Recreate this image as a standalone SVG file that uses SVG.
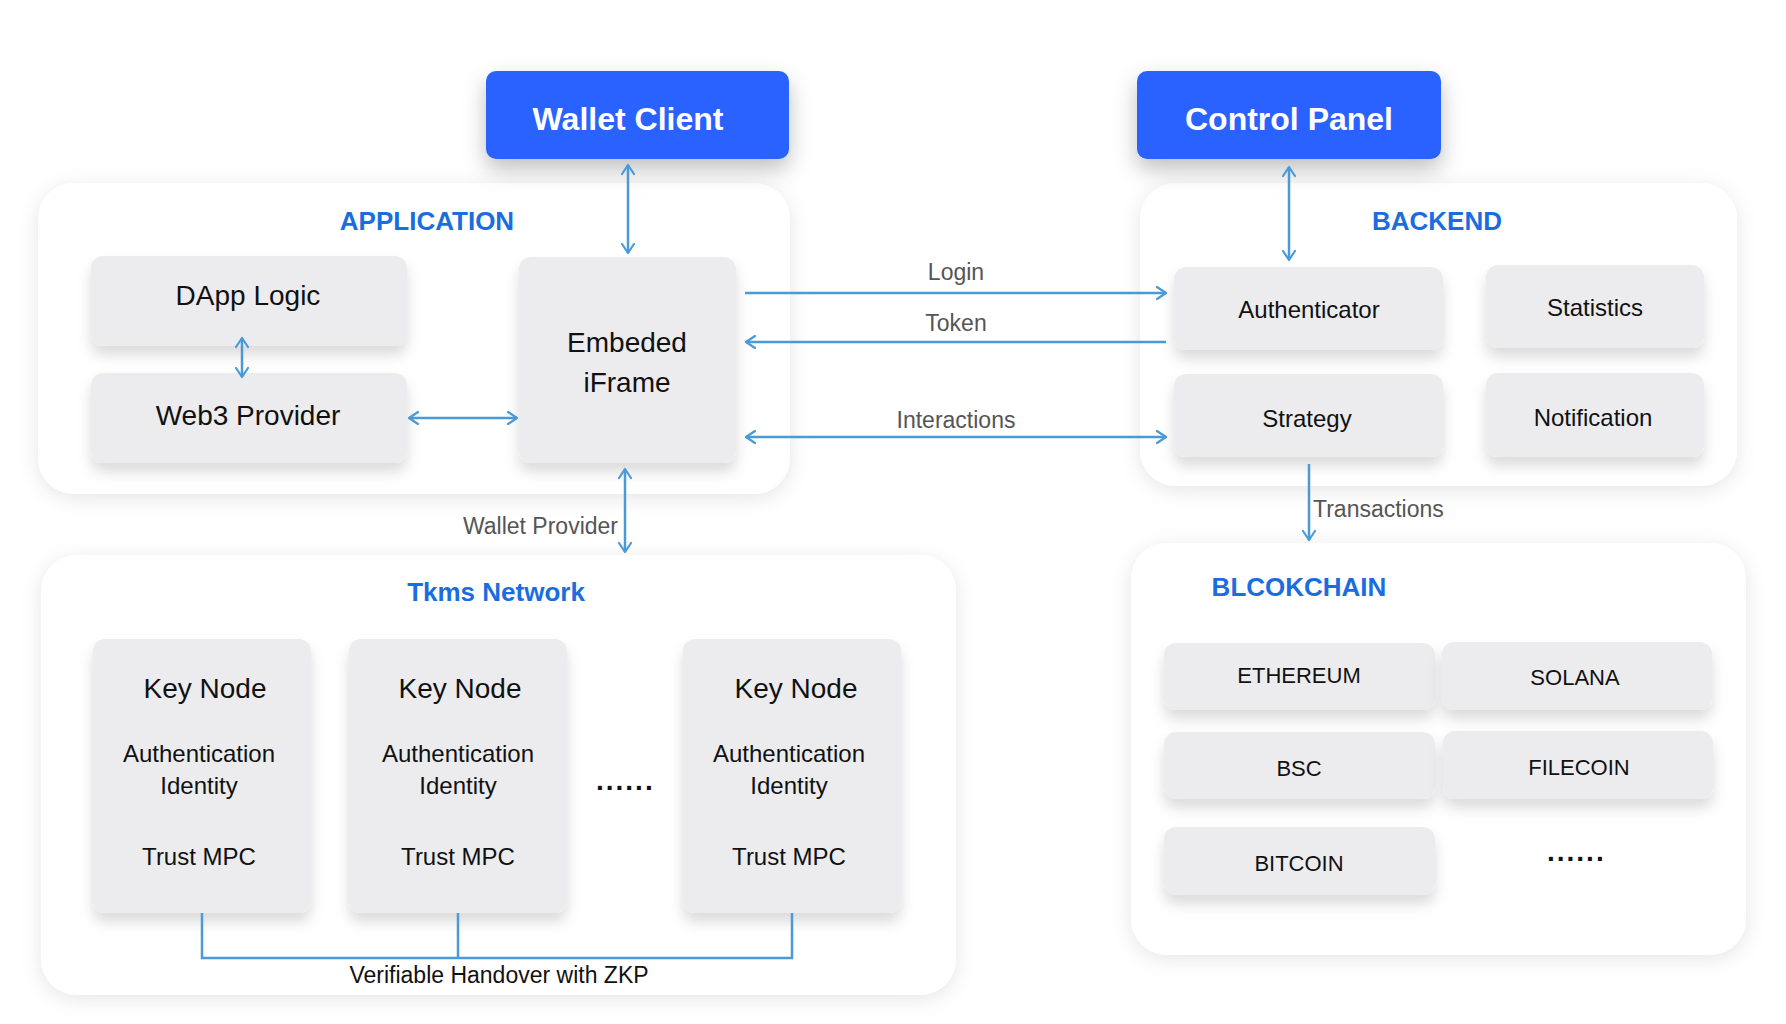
<svg xmlns="http://www.w3.org/2000/svg" width="1786" height="1024" viewBox="0 0 1786 1024">
<defs>
<filter id="shC" x="-10%" y="-10%" width="120%" height="130%"><feDropShadow dx="0" dy="4" stdDeviation="10" flood-color="#000" flood-opacity="0.1"/></filter>
<filter id="shB" x="-15%" y="-20%" width="130%" height="160%"><feDropShadow dx="0" dy="9" stdDeviation="7" flood-color="#000" flood-opacity="0.14"/></filter>
<filter id="shH" x="-20%" y="-30%" width="140%" height="190%"><feDropShadow dx="0" dy="10" stdDeviation="11" flood-color="#000" flood-opacity="0.25"/></filter>
<marker id="ah" viewBox="0 0 14 14" refX="12" refY="7" markerWidth="14" markerHeight="14" markerUnits="userSpaceOnUse" orient="auto-start-reverse"><path d="M3 1 L12 7 L3 13" fill="none" stroke="#4a9ad8" stroke-width="2.2" stroke-linecap="round" stroke-linejoin="round"/></marker>
</defs>
<style>
.cont{fill:#fff;filter:url(#shC)}
.box{fill:#ececef;filter:url(#shB)}
.hdr{fill:#2962ff;filter:url(#shH)}
.ht{font-family:"Liberation Sans",Arial,sans-serif;font-weight:bold;font-size:32px;fill:#fff;text-anchor:middle}
.ttl{font-family:"Liberation Sans",Arial,sans-serif;font-weight:bold;font-size:26px;fill:#1b6ddf;text-anchor:middle}
.bt{font-family:"Liberation Sans",Arial,sans-serif;font-size:28px;fill:#111;text-anchor:middle}
.st{font-family:"Liberation Sans",Arial,sans-serif;font-size:24px;fill:#111;text-anchor:middle}
.ct{font-family:"Liberation Sans",Arial,sans-serif;font-size:22px;fill:#111;text-anchor:middle}
.lbl{font-family:"Liberation Sans",Arial,sans-serif;font-size:23px;fill:#555;text-anchor:middle}
.dots{font-family:"Liberation Sans",Arial,sans-serif;font-size:28px;font-weight:bold;fill:#111;letter-spacing:2px}
.ln{fill:none;stroke:#4a9ad8;stroke-width:2.5}
</style>
<rect width="1786" height="1024" fill="#fff"/>

<g id="application">
<rect class="cont" x="38" y="183" width="752" height="311" rx="36"/>
<text class="ttl" x="427" y="230">APPLICATION</text>
</g>
<g id="backend">
<rect class="cont" x="1140" y="183" width="597" height="303" rx="36"/>
<text class="ttl" x="1437" y="230">BACKEND</text>
</g>
<g id="tkms-network">
<rect class="cont" x="41" y="555" width="915" height="440" rx="36"/>
<text class="ttl" x="496" y="601">Tkms Network</text>
</g>
<g id="blockchain">
<rect class="cont" x="1131" y="543" width="615" height="412" rx="36"/>
<text class="ttl" x="1299" y="596">BLCOKCHAIN</text>
</g>

<g id="wallet-client">
<rect class="hdr" x="486" y="71" width="303" height="88" rx="10"/>
<text class="ht" x="628" y="130">Wallet Client</text>
</g>
<g id="control-panel">
<rect class="hdr" x="1137" y="71" width="304" height="88" rx="10"/>
<text class="ht" x="1289" y="130">Control Panel</text>
</g>

<g id="dapp-logic">
<rect class="box" x="91" y="256" width="316" height="90" rx="12"/>
<text class="bt" x="248" y="305">DApp Logic</text>
</g>
<g id="web3-provider">
<rect class="box" x="91" y="373" width="316" height="90" rx="12"/>
<text class="bt" x="248" y="425">Web3 Provider</text>
</g>
<g id="embeded-iframe">
<rect class="box" x="519" y="257" width="217" height="206" rx="12"/>
<text class="bt" x="627" y="352">Embeded</text>
<text class="bt" x="627" y="392">iFrame</text>
</g>

<g id="authenticator">
<rect class="box" x="1174" y="267" width="269" height="83" rx="12"/>
<text class="st" x="1309" y="318">Authenticator</text>
</g>
<g id="statistics">
<rect class="box" x="1486" y="265" width="218" height="83" rx="12"/>
<text class="st" x="1595" y="316">Statistics</text>
</g>
<g id="strategy">
<rect class="box" x="1174" y="374" width="269" height="83" rx="12"/>
<text class="st" x="1307" y="427">Strategy</text>
</g>
<g id="notification">
<rect class="box" x="1486" y="373" width="218" height="84" rx="12"/>
<text class="st" x="1593" y="426">Notification</text>
</g>

<g id="key-node-1">
<rect class="box" x="93" y="639" width="218" height="274" rx="12"/>
<text class="bt" x="205" y="698">Key Node</text>
<text class="st" x="199" y="762">Authentication</text>
<text class="st" x="199" y="794">Identity</text>
<text class="st" x="199" y="865">Trust MPC</text>
</g>
<g id="key-node-2">
<rect class="box" x="349" y="639" width="218" height="274" rx="12"/>
<text class="bt" x="460" y="698">Key Node</text>
<text class="st" x="458" y="762">Authentication</text>
<text class="st" x="458" y="794">Identity</text>
<text class="st" x="458" y="865">Trust MPC</text>
</g>
<g id="key-node-ellipsis">
<text class="dots" x="596" y="790">......</text>
</g>
<g id="key-node-3">
<rect class="box" x="683" y="639" width="218" height="274" rx="12"/>
<text class="bt" x="796" y="698">Key Node</text>
<text class="st" x="789" y="762">Authentication</text>
<text class="st" x="789" y="794">Identity</text>
<text class="st" x="789" y="865">Trust MPC</text>
</g>

<g id="ethereum">
<rect class="box" x="1164" y="643" width="271" height="67" rx="12"/>
<text class="ct" x="1299" y="683">ETHEREUM</text>
</g>
<g id="solana">
<rect class="box" x="1442" y="642" width="270" height="68" rx="12"/>
<text class="ct" x="1575" y="685">SOLANA</text>
</g>
<g id="bsc">
<rect class="box" x="1164" y="732" width="271" height="67" rx="12"/>
<text class="ct" x="1299" y="776">BSC</text>
</g>
<g id="filecoin">
<rect class="box" x="1443" y="731" width="270" height="68" rx="12"/>
<text class="ct" x="1579" y="775">FILECOIN</text>
</g>
<g id="bitcoin">
<rect class="box" x="1164" y="827" width="271" height="68" rx="12"/>
<text class="ct" x="1299" y="871">BITCOIN</text>
</g>
<g id="chain-ellipsis">
<text class="dots" x="1547" y="861">......</text>
</g>

<g id="connectors">
<line class="ln" x1="628" y1="165" x2="628" y2="253" marker-start="url(#ah)" marker-end="url(#ah)"/>
<line class="ln" x1="1289" y1="167" x2="1289" y2="260" marker-start="url(#ah)" marker-end="url(#ah)"/>
<line class="ln" x1="242" y1="338" x2="242" y2="377" marker-start="url(#ah)" marker-end="url(#ah)"/>
<line class="ln" x1="409" y1="418" x2="517" y2="418" marker-start="url(#ah)" marker-end="url(#ah)"/>
<line class="ln" x1="745" y1="293" x2="1166" y2="293" marker-end="url(#ah)"/>
<text class="lbl" x="956" y="280">Login</text>
<line class="ln" x1="1166" y1="342" x2="746" y2="342" marker-end="url(#ah)"/>
<text class="lbl" x="956" y="331">Token</text>
<line class="ln" x1="746" y1="437" x2="1166" y2="437" marker-start="url(#ah)" marker-end="url(#ah)"/>
<text class="lbl" x="956" y="428">Interactions</text>
<line class="ln" x1="625" y1="469" x2="625" y2="552" marker-start="url(#ah)" marker-end="url(#ah)"/>
<text class="lbl" x="618" y="534" style="text-anchor:end">Wallet Provider</text>
<line class="ln" x1="1309" y1="464" x2="1309" y2="540" marker-end="url(#ah)"/>
<text class="lbl" x="1313" y="517" style="text-anchor:start">Transactions</text>
<path class="ln" d="M202 913 V958 H792 V913 M458 913 V958"/>
<text class="lbl" x="499" y="983" style="fill:#111">Verifiable Handover with ZKP</text>
</g>
</svg>
